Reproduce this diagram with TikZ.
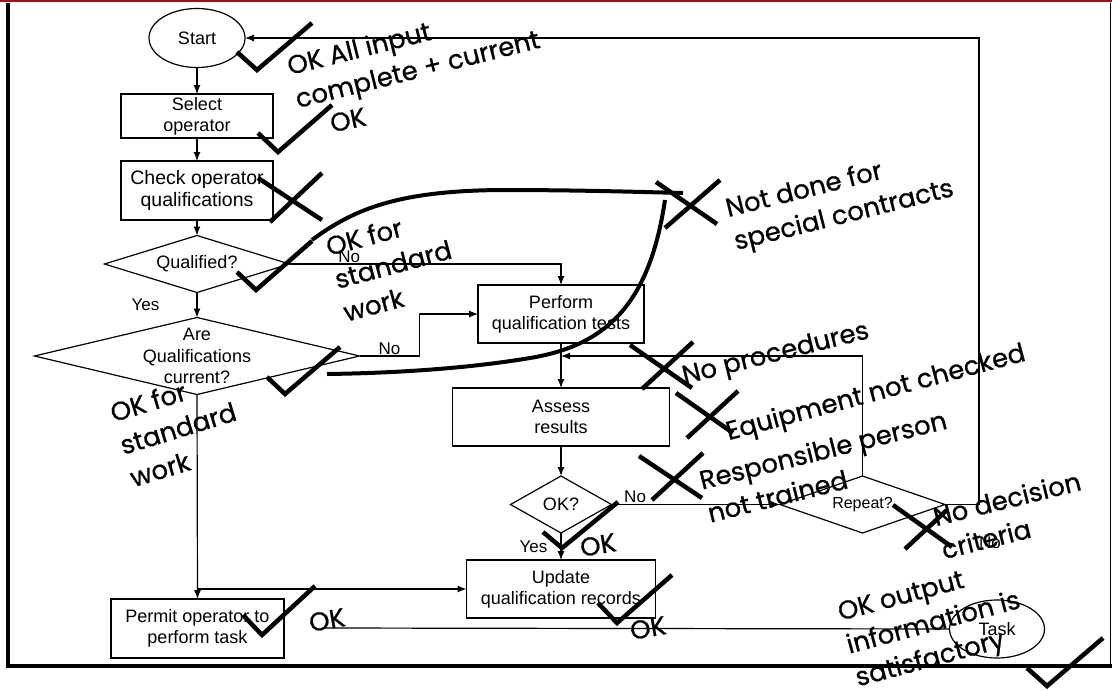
\documentclass[tikz,border=0pt]{standalone}
\usepackage{fontspec}
\setmainfont{Liberation Sans}
\newfontfamily\handfont[FakeBold=0.8]{Poppins}
\usetikzlibrary{arrows.meta}
\usetikzlibrary{shapes.geometric,positioning}

\definecolor{slidered}{HTML}{8B1A1F}

\begin{document}
\begin{tikzpicture}[x=1pt,y=-1pt,line width=1.2pt,>={Latex[length=9pt,width=7pt]},
    box/.style={draw,rectangle,inner sep=0pt,outer sep=0pt,align=center,font=\fontsize{18}{21}\selectfont},
    dec/.style={draw,diamond,inner sep=0pt,outer sep=0pt},
    dtxt/.style={inner sep=0pt,align=center,font=\fontsize{18}{21.5}\selectfont},
    term/.style={draw,ellipse,inner sep=0pt,outer sep=0pt,font=\fontsize{18}{21}\selectfont},
    lbl/.style={inner sep=1pt,font=\fontsize{17}{20}\selectfont},
    note/.style={align=left,inner sep=0pt,font=\handfont\fontsize{26}{34}\selectfont},
    pen/.style={line width=4.5pt},
    lasso/.style={line width=4pt}]
    \useasboundingbox (0,0) rectangle (1112,691);

    % slide frame
    \draw[slidered, line width=2.5pt] (0,1) -- (1112,1);
    \draw[line width=4.5pt] (8,3) -- (8,666) -- (1112,666);
    \draw[line width=1.5pt] (1110.5,3) -- (1110.5,664);

    % flowchart
    \node[term, minimum width=96pt, minimum height=59pt] (start) at (197,38) {Start};
    \node[box, minimum width=152pt, minimum height=44pt] (select) at (197,116) {Select\\operator};
    \node[box, minimum width=152pt, minimum height=59pt, font=\fontsize{19.5}{22}\selectfont] (check) at (197,190.5) {Check operator\\qualifications};
    \node[dec, minimum width=185pt, minimum height=57pt] (qual) at (197,264) {};
    \node[dtxt] (qual-t) at (qual) {Qualified?};
    \node[dec, minimum width=325pt, minimum height=77pt] (curr) at (197,356) {};
    \node[dtxt] (curr-t) at (curr) {Are\\Qualifications\\current?};
    \node[box, minimum width=166pt, minimum height=58pt] (perform) at (561,314) {Perform\\qualification tests};
    \node[box, minimum width=217pt, minimum height=58pt] (assess) at (561,417) {Assess\\results};
    \node[dec, minimum width=101pt, minimum height=57pt] (ok) at (561,504.5) {};
    \node[dtxt] (ok-t) at (ok) {OK?};
    \node[dec, minimum width=165pt, minimum height=57pt] (repeat) at (862.5,504.5) {};
    \node[dtxt, font=\fontsize{16}{19}\selectfont] (repeat-t) at (repeat) {Repeat?};
    \node[box, minimum width=189pt, minimum height=58pt] (update) at (561,589) {Update\\qualification records};
    \node[box, minimum width=173pt, minimum height=59pt] (permit) at (197.5,628.5) {Permit operator to\\perform task};
    \node[term, minimum width=95pt, minimum height=58pt] (task) at (997,629) {Task};

    \draw[->] (start) -- (select);
    \draw[->] (select) -- (check);
    \draw[->] (check) -- (qual);
    \draw[->] (qual) -- node[lbl, left=36pt] (yes1) {Yes} (curr);
    \draw[->] (qual.east) -| node[lbl, above, pos=0.11] (no1) {No} (perform.north);
    \draw[->] (curr.east) -- node[lbl, above] (no2) {No} ++(60,0) |- (perform.west);
    \draw[->] (curr.south) -- (permit.north);
    \draw[->] (curr.south |- update.west) -- (update.west);
    \draw[->] (perform) -- (assess);
    \draw[->] (assess) -- (ok);
    \draw[->] (ok) -- node[lbl, left=12pt] (yes2) {Yes} (update);
    \draw[->] (ok.east) -- node[lbl, above, pos=0.14] (no3) {No} (repeat.west);
    \coordinate (join) at (561,356);
    \draw[->] (repeat.north) |- (join);
    \draw[->] (repeat.east) -- ++(34,0) |- (start.east);
    \node[lbl] (no4) at (990,543) {No};
    \coordinate (tail) at (323,628);
    \draw (tail) -- (task.west);

    % review marks: ticks, then crosses
    \foreach \ax/\ay/\bx/\by/\cx/\cy in {237/52/257/70/312/23, 258/133/278/152/332/105,
        237/272/256/290/312/241, 267/377/285/394/340/347, 543/532/562/548/618/502,
        598/603/617/623/672/575, 243/615/262/635/315/586, 1027/668/1047/686/1103/638}
      \draw[pen] (\ax,\ay) -- (\bx,\by) -- (\cx,\cy);
    \foreach \ax/\ay/\bx/\by/\cx/\cy/\dx/\dy in {258/178/322/220/270/222/322/173,
        656/182/717/224/720/180/665/228, 630/345/692/388/693/342/642/389,
        676/393/733/433/738/391/687/438, 639/456/702/498/703/453/652/500,
        893/505/952/547/947/510/905/549}
      \draw[pen] (\ax,\ay) -- (\bx,\by) (\cx,\cy) -- (\dx,\dy);

    % lasso round the standard work path
    \draw[lasso] (312,240) .. controls (355,208) and (400,191) .. (500,190)
        .. controls (580,190) and (640,192) .. (683,193);
    \draw[lasso] (665,200) .. controls (650,300) and (610,345) .. (530,358)
        .. controls (470,368) and (400,373) .. (327,374);

    % review comments
    \node[note, rotate=14] (n1) at (414,55) {OK All input\\complete + current};
    \node[note, rotate=12] (n2) at (348,120) {OK};
    \node[note, rotate=14] (n3) at (840,200) {Not done for\\special contracts};
    \node[note, rotate=15] (n4) at (393,264) {OK for\\standard\\work};
    \node[note, rotate=17] (n5) at (178,428) {OK for\\standard\\work};
    \node[note, rotate=14] (n6) at (776,355) {No procedures};
    \node[note, rotate=15] (n7) at (876,394) {Equipment not checked};
    \node[note, rotate=14] (n8) at (827,466) {Responsible person\\not trained};
    \node[note, rotate=10] (n9) at (598,545) {OK};
    \node[note, rotate=14] (n10) at (1011,515) {No decision\\criteria};
    \node[note, rotate=10] (n11) at (648,628) {OK};
    \node[note, rotate=10] (n12) at (327,620) {OK};
    \node[note, rotate=15] (n13) at (934,625) {OK output\\information is\\satisfactory};
\end{tikzpicture}
\end{document}
